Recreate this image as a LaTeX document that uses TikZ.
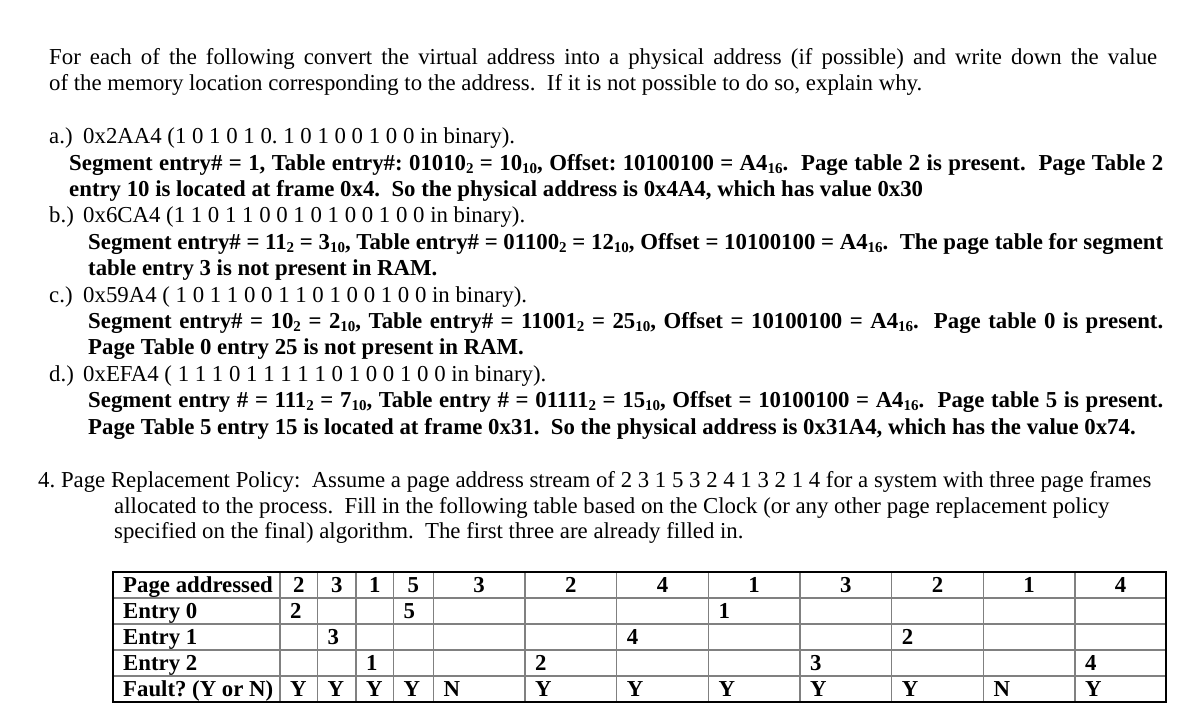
\documentclass[tikz,border=0pt]{standalone}
\usepackage{fontspec}
\setmainfont{Liberation Serif}
\newcommand\sbs[1]{\raisebox{-3.5pt}{\fontsize{15}{15}\selectfont #1}}
\begin{document}
\begin{tikzpicture}[x=1pt,y=-1pt,
  txt/.style={anchor=base west, inner sep=0pt, font=\fontsize{22.8}{26.3}\selectfont\frenchspacing},
  btxt/.style={anchor=base west, inner sep=0pt, font=\fontsize{22.8}{26.3}\selectfont\bfseries\frenchspacing},
  hcell/.style={anchor=base, inner sep=0pt, font=\fontsize{22.8}{26.3}\selectfont\bfseries},
  dcell/.style={anchor=base west, inner sep=0pt, font=\fontsize{22.8}{26.3}\selectfont\bfseries\frenchspacing},
  innerline/.style={draw=black!50, line width=1.3pt},
  outerline/.style={draw=black, line width=1.5pt}]
\useasboundingbox (0,0) rectangle (1202,725);

\node[txt] (l1) at (49,64) {\makebox[1108pt][s]{For each of the following convert the virtual address into a physical address (if possible) and write down the value}};
\node[txt] (l2) at (49,91) {of the memory location corresponding to the address.\ \ If it is not possible to do so, explain why.};

\node[txt] (la) at (49,143) {a.)};
\node[txt] (qa) at (83,143) {0x2AA4 (1 0 1 0 1 0. 1 0 1 0 0 1 0 0 in binary).};
\node[btxt] (aa1) at (69,170) {\makebox[1094pt][s]{Segment entry\# = 1, Table entry\#: 01010\sbs{2} = 10\sbs{10}, Offset: 10100100 = A4\sbs{16}.\ \ Page table 2 is present.\ \ Page Table 2}};
\node[btxt] (aa2) at (69,196) {entry 10 is located at frame 0x4.\ \ So the physical address is 0x4A4, which has value 0x30};

\node[txt] (lb) at (49,222) {b.)};
\node[txt] (qb) at (83,222) {0x6CA4 (1 1 0 1 1 0 0 1 0 1 0 0 1 0 0 in binary).};
\node[btxt] (ab1) at (88,249) {\makebox[1075pt][s]{Segment entry\# = 11\sbs{2} = 3\sbs{10}, Table entry\# = 01100\sbs{2} = 12\sbs{10}, Offset = 10100100 = A4\sbs{16}.\ \ The page table for segment}};
\node[btxt] (ab2) at (88,275) {table entry 3 is not present in RAM.};

\node[txt] (lc) at (49,302) {c.)};
\node[txt] (qc) at (83,302) {0x59A4 ( 1 0 1 1 0 0 1 1 0 1 0 0 1 0 0 in binary).};
\node[btxt] (ac1) at (88,328) {\makebox[1075pt][s]{Segment entry\# = 10\sbs{2} = 2\sbs{10}, Table entry\# = 11001\sbs{2} = 25\sbs{10}, Offset = 10100100 = A4\sbs{16}.\ \ Page table 0 is present.}};
\node[btxt] (ac2) at (88,354) {Page Table 0 entry 25 is not present in RAM.};

\node[txt] (ld) at (49,381) {d.)};
\node[txt] (qd) at (83,381) {0xEFA4 ( 1 1 1 0 1 1 1 1 1 0 1 0 0 1 0 0 in binary).};
\node[btxt] (ad1) at (88,407) {\makebox[1075pt][s]{Segment entry \# = 111\sbs{2} = 7\sbs{10}, Table entry \# = 01111\sbs{2} = 15\sbs{10}, Offset = 10100100 = A4\sbs{16}.\ \ Page table 5 is present.}};
\node[btxt] (ad2) at (88,434) {Page Table 5 entry 15 is located at frame 0x31.\ \ So the physical address is 0x31A4, which has the value 0x74.};

\node[txt] (p4a) at (38,487) {4. Page Replacement Policy:\ \ Assume a page address stream of 2 3 1 5 3 2 4 1 3 2 1 4 for a system with three page frames};
\node[txt] (p4b) at (114,513) {allocated to the process.\ \ Fill in the following table based on the Clock (or any other page replacement policy};
\node[txt] (p4c) at (114,538) {specified on the final) algorithm.\ \ The first three are already filled in.};

% table grid
\foreach \x in {280,317.5,356,393.5,433.3,525,616.7,708.3,800,891.7,983.3,1075}
  \draw[innerline] (\x,572) -- (\x,702);
\foreach \y in {598,624,650,676}
  \draw[innerline] (113,\y) -- (1166,\y);
\draw[outerline] (113,572) rectangle (1166,702);

% row labels
\node[dcell] (r0) at (123,592) {Page addressed};
\node[dcell] (r1) at (123,618) {Entry 0};
\node[dcell] (r2) at (123,644) {Entry 1};
\node[dcell] (r3) at (123,670) {Entry 2};
\node[dcell] (r4) at (123,696) {Fault? (Y or N)};

% header row
\foreach \xl/\xr/\t [count=\i] in {280/317.5/2, 317.5/356/3, 356/393.5/1, 393.5/433.3/5, 433.3/525/3, 525/616.7/2, 616.7/708.3/4, 708.3/800/1, 800/891.7/3, 891.7/983.3/2, 983.3/1075/1, 1075/1166/4}
  \node[hcell] (h\i) at ({(\xl+\xr)/2},592) {\t};

% entries
\foreach \xl/\yb/\t [count=\i] in {280/618/2, 393.5/618/5, 708.3/618/1,
   317.5/644/3, 616.7/644/4, 891.7/644/2,
   356/670/1, 525/670/2, 800/670/3, 1075/670/4}
  \node[dcell] (e\i) at (\xl+10,\yb) {\t};

% fault row
\foreach \xl/\t [count=\i] in {280/Y, 317.5/Y, 356/Y, 393.5/Y, 433.3/N, 525/Y, 616.7/Y, 708.3/Y, 800/Y, 891.7/Y, 983.3/N, 1075/Y}
  \node[dcell] (f\i) at (\xl+10,696) {\t};
\end{tikzpicture}
\end{document}
